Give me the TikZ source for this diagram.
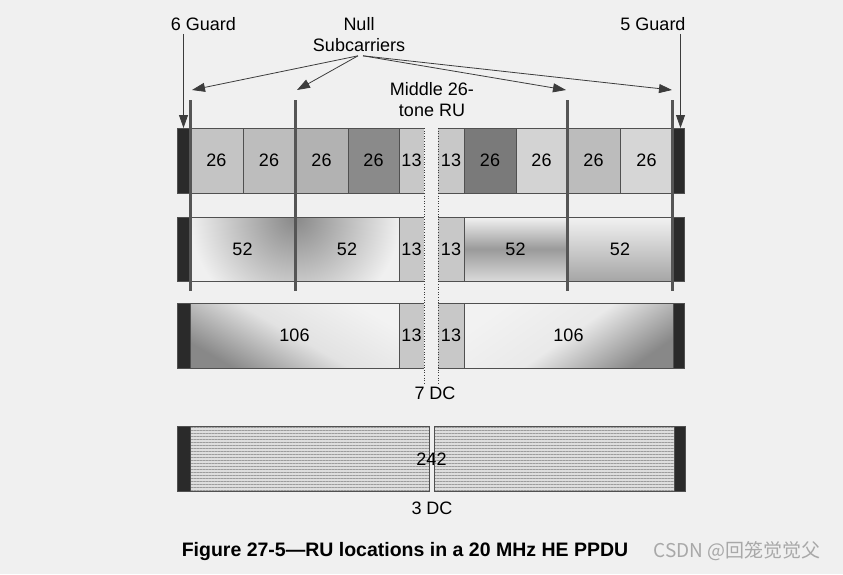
\documentclass[tikz,border=0pt]{standalone}
\usepackage{fontspec}
\setmainfont{Liberation Sans}
\newfontfamily\cjkfont{Noto Sans CJK SC}
\usetikzlibrary{arrows.meta,patterns.meta}
\definecolor{bg}{HTML}{F0F0F0}
\definecolor{edge}{HTML}{505050}
\definecolor{guardc}{HTML}{2A2A2A}
\definecolor{nullc}{HTML}{555555}
\definecolor{arrc}{HTML}{3C3C3C}
\definecolor{thirteen}{HTML}{C8C8C8}
\definecolor{ca}{HTML}{C4C4C4}
\definecolor{cb}{HTML}{BDBDBD}
\definecolor{cc}{HTML}{B2B2B2}
\definecolor{cd}{HTML}{8A8A8A}
\definecolor{ce}{HTML}{7A7A7A}
\definecolor{cf}{HTML}{D3D3D3}
\definecolor{cg}{HTML}{BCBCBC}
\definecolor{ch}{HTML}{D6D6D6}
\definecolor{shadedark}{HTML}{888888}
\definecolor{shadelight}{HTML}{F2F2F2}
\definecolor{linec}{HTML}{9C9C9C}
\definecolor{rowfour}{HTML}{DEDEDE}
\definecolor{wm}{HTML}{A8A8A8}
\newcommand\RU[7]{\node[box,#6,minimum width={(#3-#2)*1pt},minimum height={(#5-#4)*1pt}] (#1) at (#2,#4) {#7};}
\begin{document}
\begin{tikzpicture}[x=1pt,y=-1pt,
  box/.style={draw=edge, line width=0.8pt, inner sep=0pt, outer sep=0pt, anchor=north west, font=\fontsize{18}{21}\selectfont},
  guard/.style={fill=guardc},
  inner13/.style={fill=thirteen, draw=none},
  edgeline/.style={draw=edge, line width=0.8pt},
  lab/.style={font=\fontsize{18}{21}\selectfont, align=center, inner sep=3pt},
  nullline/.style={draw=nullc, line width=3pt},
  arr/.style={draw=arrc, line width=0.8pt, -{Triangle[length=13pt,width=9pt]}},
  dcline/.style={draw=arrc, line width=0.6pt, dotted},
  rowfourfill/.style={preaction={fill=rowfour}, pattern={Lines[angle=0,distance=3pt,line width=0.9pt]}, pattern color=linec}
]
\useasboundingbox[fill=bg] (0,0) rectangle (843,574);

% ---- row 1 ----
\RU{g1l}{177}{190}{128}{193}{guard}{}
\RU{r1a}{190}{243}{128}{193}{fill=ca}{26}
\RU{r1b}{243}{295}{128}{193}{fill=cb}{26}
\RU{r1c}{295}{348}{128}{193}{fill=cc}{26}
\RU{r1d}{348}{399}{128}{193}{fill=cd}{26}
\RU{r1e}{399}{424}{128}{193}{inner13}{13}
\RU{r1f}{438}{464}{128}{193}{inner13}{13}
\RU{r1g}{464}{516}{128}{193}{fill=ce}{26}
\RU{r1h}{516}{567}{128}{193}{fill=cf}{26}
\RU{r1i}{567}{620}{128}{193}{fill=cg}{26}
\RU{r1j}{620}{673}{128}{193}{fill=ch}{26}
\RU{g1r}{673}{684}{128}{193}{guard}{}
\draw[edgeline] (r1e.north east) -- (r1e.north west) -- (r1e.south west) -- (r1e.south east);
\draw[edgeline] (r1f.north west) -- (r1f.north east) -- (r1f.south east) -- (r1f.south west);

% ---- row 2 ----
\begin{scope}
  \clip (190,217) rectangle (399,281);
  \shade[inner color=shadedark, outer color=bg] (295,217) circle (105pt);
\end{scope}
\RU{g2l}{177}{190}{217}{281}{guard}{}
\RU{r2a}{190}{295}{217}{281}{}{52}
\RU{r2b}{295}{399}{217}{281}{}{52}
\RU{r2c}{399}{424}{217}{281}{inner13}{13}
\RU{r2d}{438}{464}{217}{281}{inner13}{13}
\RU{r2e}{464}{567}{217}{281}{top color=shadelight, bottom color=shadelight!90!black, middle color=shadedark!85}{52}
\RU{r2f}{567}{673}{217}{281}{top color=shadelight, bottom color=shadedark!75}{52}
\RU{g2r}{673}{684}{217}{281}{guard}{}
\draw[edgeline] (r2c.north east) -- (r2c.north west) -- (r2c.south west) -- (r2c.south east);
\draw[edgeline] (r2d.north west) -- (r2d.north east) -- (r2d.south east) -- (r2d.south west);

% ---- row 3 ----
\RU{g3l}{177}{190}{303}{368}{guard}{}
\RU{r3a}{190}{399}{303}{368}{top color=shadelight, bottom color=shadedark, middle color=shadelight!85!shadedark, shading angle=-30}{106}
\RU{r3b}{399}{424}{303}{368}{inner13}{13}
\RU{r3c}{438}{464}{303}{368}{inner13}{13}
\RU{r3d}{464}{673}{303}{368}{top color=shadelight, bottom color=shadedark, middle color=shadelight!92!shadedark, shading angle=35}{106}
\RU{g3r}{673}{684}{303}{368}{guard}{}
\draw[edgeline] (r3b.north east) -- (r3b.north west) -- (r3b.south west) -- (r3b.south east);
\draw[edgeline] (r3c.north west) -- (r3c.north east) -- (r3c.south east) -- (r3c.south west);

% ---- row 4 ----
\RU{g4l}{177}{190}{426}{491}{guard}{}
\RU{r4a}{190}{429}{426}{491}{rowfourfill}{}
\RU{r4b}{434}{674}{426}{491}{rowfourfill}{}
\RU{g4r}{674}{685}{426}{491}{guard}{}
\node[lab] (t242) at (431.5,459) {242};

% ---- null subcarrier lines ----
\coordinate (n1t) at (190,100); \coordinate (n1b) at (190,291);
\coordinate (n2t) at (295,100); \coordinate (n2b) at (295,291);
\coordinate (n3t) at (567,100); \coordinate (n3b) at (567,291);
\coordinate (n4t) at (672,100); \coordinate (n4b) at (672,291);
\draw[nullline] (n1t) -- (n1b);
\draw[nullline] (n2t) -- (n2b);
\draw[nullline] (n3t) -- (n3b);
\draw[nullline] (n4t) -- (n4b);

% ---- labels ----
\node[lab] (g6) at (203.5,24) {6 Guard};
\node[lab] (g5) at (653,24) {5 Guard};
\node[lab, inner sep=4pt] (ns) at (359,34.5) {Null\\Subcarriers};
\node[lab] (mid) at (432,99.5) {Middle 26-\\tone RU};
\node[lab] (dc7) at (435,393) {7 DC};
\node[lab] (dc3) at (432,508) {3 DC};
\node[font=\bfseries\fontsize{19.5}{22}\selectfont, inner sep=0pt] (cap) at (405,551) {Figure 27-5—RU locations in a 20 MHz HE PPDU};
\node[font=\cjkfont\fontsize{19}{22}\selectfont, text=wm, inner sep=0pt] (wmk) at (737,551) {CSDN @回笼觉觉父};

% ---- arrows ----
\coordinate (a1) at (192,90);
\coordinate (a2) at (297,90);
\coordinate (a3) at (566,90);
\coordinate (a4) at (672,90);
\draw[arr] ([xshift=-1pt]ns.south) -- (a1);
\draw[arr] ([xshift=-1pt]ns.south) -- (a2);
\draw[arr] ([xshift=4pt]ns.south) -- (a3);
\draw[arr] ([xshift=4pt]ns.south) -- (a4);
\draw[arr] (g6.south -| g1l.north) -- (g1l.north);
\draw[arr] ([xshift=2pt]g5.south -| g1r.north) -- ([xshift=2pt]g1r.north);

% ---- DC lines ----
\coordinate (dc1t) at (424,128);
\coordinate (dc2t) at (438,128);
\draw[dcline] (dc1t) -- (dc1t |- dc7.north);
\draw[dcline] (dc2t) -- (dc2t |- dc7.north);
\end{tikzpicture}
\end{document}
